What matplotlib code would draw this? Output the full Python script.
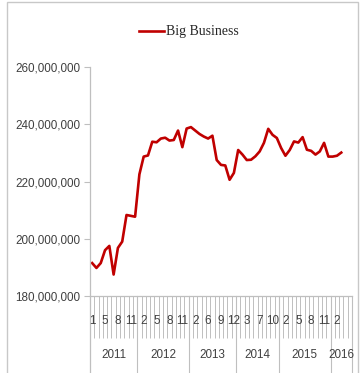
import matplotlib
matplotlib.use("Agg")
import matplotlib.pyplot as plt
import matplotlib.transforms as mtransforms
from matplotlib.patches import Rectangle
import numpy as np

# Monthly categories per year (a few months are absent from the series)
years = ["2011", "2012", "2013", "2014", "2015", "2016"]
months_2011 = [1, 2, 3, 5, 6, 7, 8, 9, 10, 11, 12]
months_2012 = [1, 2, 3, 4, 5, 6, 7, 8, 9, 10, 11, 12]
months_2013 = [1, 2, 3, 4, 6, 7, 8, 9, 10, 11, 12]
months_2014 = [1, 2, 3, 4, 5, 7, 8, 9, 10, 12]
months_2015 = [1, 2, 3, 4, 5, 6, 7, 8, 9, 10, 11, 12]
months_2016 = [1, 2, 3, 4, 5]
months_by_year = [months_2011, months_2012, months_2013,
                  months_2014, months_2015, months_2016]

# Big Business, in millions
big_business = [
    191.5, 189.8, 191.5, 196.0, 197.5, 187.5, 196.8, 199.0, 208.3, 208.0, 207.7,
    222.5, 228.7, 229.1, 233.9, 233.7, 235.0, 235.3, 234.3, 234.5, 237.8, 232.0, 238.5,
    239.0, 237.8, 236.6, 235.7, 235.0, 236.0, 227.5, 225.8, 225.6, 220.6, 223.0,
    231.0, 229.4, 227.5, 227.6, 228.8, 230.5, 233.5, 238.4, 236.3, 235.2,
    231.7, 229.0, 231.0, 234.0, 233.6, 235.5, 231.1, 230.7, 229.4, 230.5, 233.5, 228.7,
    228.7, 229.0, 230.1,
]

y_ticks = [180e6, 200e6, 220e6, 240e6, 260e6]
label_step = 3

month_labels = [m for ms in months_by_year for m in ms]
n_cat = len(month_labels)
values = np.full(n_cat, np.nan)
values[:len(big_business)] = np.array(big_business) * 1e6

W, H = 363, 373
fig = plt.figure(figsize=(W / 100, H / 100), dpi=100)
fig.patch.set_facecolor("white")

# outer frame
fig.patches.append(Rectangle((7 / W, -0.05), 351 / W, 1.0 - 2 / H + 0.05,
                             transform=fig.transFigure, fill=False,
                             edgecolor="#c8c8c8", linewidth=1.0))

left, right, top, bottom = 90, 352, 67, 296
ax = fig.add_axes([left / W, 1 - bottom / H, (right - left) / W, (bottom - top) / H])

tick_font = ["Liberation Sans", "DejaVu Sans"]
fs = 8.4
grey = "#bfbfbf"
txt = "#404040"

x = np.arange(n_cat) + 0.5
ax.plot(x, values, color="#c00000", linewidth=1.9, solid_joinstyle="round",
        label="Big Business")

ax.set_xlim(0, n_cat)
ax.set_ylim(y_ticks[0], y_ticks[-1])
ax.set_yticks(y_ticks)
ax.set_yticklabels([f"{int(v):,}" for v in y_ticks], family=tick_font,
                   fontsize=fs, color=txt)
ax.tick_params(axis="y", length=4, width=0.8, color=grey, pad=3)

for s in ("top", "right"):
    ax.spines[s].set_visible(False)
for s in ("left", "bottom"):
    ax.spines[s].set_color(grey)
    ax.spines[s].set_linewidth(0.9)

# category boundary ticks
ax.set_xticks(np.arange(n_cat + 1))
ax.set_xticklabels([])
ax.tick_params(axis="x", length=30, width=0.7, color=grey, direction="out")

trans = mtransforms.blended_transform_factory(ax.transData, ax.transAxes)

# month labels
for i in range(0, n_cat - 2, label_step):
    ax.text(i + 0.5, -0.108, str(month_labels[i]), transform=trans,
            ha="center", va="center", family=tick_font, fontsize=fs, color=txt)

# year boundaries and labels
start = 0
for yr, ms in zip(years, months_by_year):
    end = start + len(ms)
    ax.plot([end, end], [0, -0.33], transform=trans, color=grey,
            linewidth=0.8, clip_on=False)
    ax.text((start + end) / 2, -0.258, yr, transform=trans, ha="center",
            va="center", family=tick_font, fontsize=fs, color=txt)
    start = end
ax.plot([0, 0], [0, -0.33], transform=trans, color=grey, linewidth=0.9,
        clip_on=False)

fig.legend(loc="center", bbox_to_anchor=(189 / W, 1 - 32 / H), frameon=False,
           prop={"family": ["Liberation Serif", "DejaVu Serif"], "size": 10},
           handlelength=1.8, handletextpad=0.1, labelcolor="#262626")

fig.savefig("out.png", dpi=100, facecolor="white")
